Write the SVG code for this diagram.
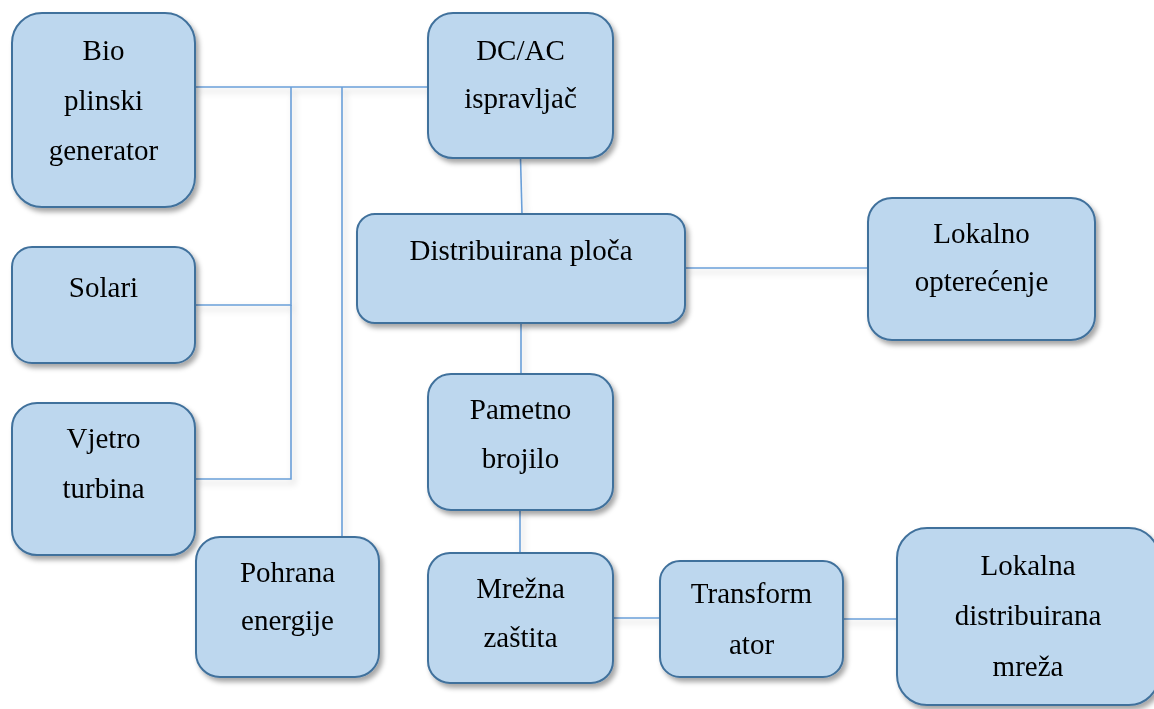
<svg xmlns="http://www.w3.org/2000/svg" width="1154" height="709" viewBox="0 0 1154 709">
<defs>
<style>
.box{fill:#BDD7EE;stroke:#41719C;stroke-width:2;}
.lbl{font-family:"Liberation Serif","Times New Roman",serif;font-size:29px;fill:#000;text-anchor:middle;}
.con{fill:none;stroke:#6A9FD8;stroke-width:1.6;}
</style>
<filter id="sh" x="-10%" y="-10%" width="125%" height="130%">
<feDropShadow dx="3" dy="4" stdDeviation="2.5" flood-color="#000" flood-opacity="0.35"/>
</filter>
<filter id="lsh" x="-10%" y="-10%" width="130%" height="130%">
<feDropShadow dx="3" dy="4" stdDeviation="3" flood-color="#000" flood-opacity="0.22"/>
</filter>
</defs>
<rect width="1154" height="709" fill="#fff"/>
<g id="connectors" filter="url(#lsh)">
<path class="con" d="M195 87 H429"/>
<path class="con" d="M195 305 H291 V87"/>
<path class="con" d="M195 479 H291 V305"/>
<path class="con" d="M342 87 V537"/>
<path class="con" d="M520.5 158 L522 214"/>
<path class="con" d="M685 268 H868"/>
<path class="con" d="M521 323 V374"/>
<path class="con" d="M520 510 V553"/>
<path class="con" d="M613 618 H660"/>
<path class="con" d="M843 619 H897"/>
</g>
<g id="bio" filter="url(#sh)">
<rect class="box" x="12" y="13" width="183" height="194" rx="30"/>
<text class="lbl" x="103.5" y="60">Bio</text>
<text class="lbl" x="103.5" y="110">plinski</text>
<text class="lbl" x="103.5" y="160">generator</text>
</g>
<g id="solari" filter="url(#sh)">
<rect class="box" x="12" y="247" width="183" height="116" rx="20"/>
<text class="lbl" x="103.5" y="297">Solari</text>
</g>
<g id="vjetro" filter="url(#sh)">
<rect class="box" x="12" y="403" width="183" height="152" rx="25"/>
<text class="lbl" x="103.5" y="448">Vjetro</text>
<text class="lbl" x="103.5" y="498">turbina</text>
</g>
<g id="pohrana" filter="url(#sh)">
<rect class="box" x="196" y="537" width="183" height="140" rx="24"/>
<text class="lbl" x="287.5" y="582">Pohrana</text>
<text class="lbl" x="287.5" y="630">energije</text>
</g>
<g id="dcac" filter="url(#sh)">
<rect class="box" x="428" y="13" width="185" height="145" rx="25"/>
<text class="lbl" x="520.5" y="60">DC/AC</text>
<text class="lbl" x="520.5" y="108">ispravljač</text>
</g>
<g id="distrib" filter="url(#sh)">
<rect class="box" x="357" y="214" width="328" height="109" rx="18"/>
<text class="lbl" x="521" y="260">Distribuirana ploča</text>
</g>
<g id="lokalno" filter="url(#sh)">
<rect class="box" x="868" y="198" width="227" height="142" rx="24"/>
<text class="lbl" x="981.5" y="243">Lokalno</text>
<text class="lbl" x="981.5" y="291">opterećenje</text>
</g>
<g id="pametno" filter="url(#sh)">
<rect class="box" x="428" y="374" width="185" height="136" rx="23"/>
<text class="lbl" x="520.5" y="419">Pametno</text>
<text class="lbl" x="520.5" y="468">brojilo</text>
</g>
<g id="mrezna" filter="url(#sh)">
<rect class="box" x="428" y="553" width="185" height="130" rx="22"/>
<text class="lbl" x="520.5" y="598">Mrežna</text>
<text class="lbl" x="520.5" y="647">zaštita</text>
</g>
<g id="transformator" filter="url(#sh)">
<rect class="box" x="660" y="561" width="183" height="116" rx="20"/>
<text class="lbl" x="751.5" y="603">Transform</text>
<text class="lbl" x="751.5" y="654">ator</text>
</g>
<g id="lokalna" filter="url(#sh)">
<rect class="box" x="897" y="528" width="262" height="177" rx="30"/>
<text class="lbl" x="1028" y="575">Lokalna</text>
<text class="lbl" x="1028" y="625">distribuirana</text>
<text class="lbl" x="1028" y="676">mreža</text>
</g>
</svg>
